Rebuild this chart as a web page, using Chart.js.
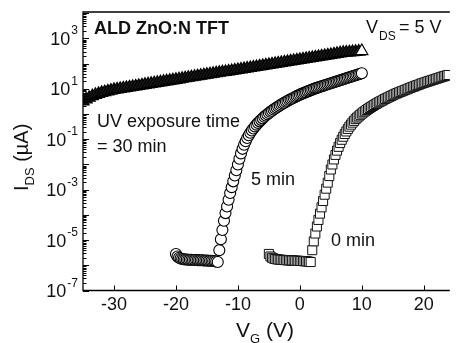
<!DOCTYPE html>
<html>
<head>
<meta charset="utf-8">
<script src="https://cdn.jsdelivr.net/npm/chart.js@4/dist/chart.umd.min.js"></script>
<style>
  html, body { margin: 0; padding: 0; background: #fff; overflow: hidden; }
  canvas { display: block; }
</style>
</head>
<body>
<canvas id="c" width="458" height="343"></canvas>
<script>
// gate sweeps (V): start and step of each measured transfer curve
var sweep30 = { start: -35, step: 0.5 };
var sweep5  = { start: -20, step: 0.25 };
var sweep0  = { start: -5,  step: 0.25 };

// log10(I_DS / uA)
var logI30min = [
  0.50, 0.58, 0.65, 0.71,   // -35 .. -33.5
  0.76, 0.80, 0.84, 0.87,   // -33 .. -31.5
  0.90, 0.93, 0.96, 0.98,   // -31 .. -29.5
  1.00, 1.02, 1.04, 1.06,
  1.08, 1.10, 1.12, 1.14,
  1.16, 1.18, 1.20, 1.22,
  1.24, 1.26, 1.28, 1.30,
  1.32, 1.34, 1.36, 1.38,   // -21 .. -19.5
  1.40, 1.42, 1.44, 1.46,
  1.48, 1.50, 1.52, 1.54,
  1.56, 1.58, 1.60, 1.62,
  1.64, 1.66, 1.67, 1.69,
  1.71, 1.73, 1.75, 1.77,   // -11 .. -9.5
  1.79, 1.81, 1.83, 1.85,
  1.87, 1.89, 1.91, 1.93,
  1.95, 1.97, 1.99, 2.01,
  2.03, 2.05, 2.07, 2.09,
  2.11, 2.13, 2.15, 2.17,   // -1 .. 0.5
  2.19, 2.21, 2.23, 2.25,
  2.27, 2.29, 2.31, 2.33,
  2.35, 2.37, 2.39, 2.41,
  2.43, 2.44, 2.45, 2.46,   // 7 .. 8.5
  2.47, 2.48, 2.50          // 9 .. 10
];

var logI5min = [
  -5.55, -5.65, -5.70, -5.73,   // -20
  -5.75, -5.76, -5.77, -5.77,   // -19
  -5.78, -5.78, -5.78, -5.79,   // -18
  -5.79, -5.79, -5.80, -5.80,   // -17
  -5.80, -5.80, -5.81, -5.81,   // -16
  -5.81, -5.82, -5.82, -5.82,   // -15
  -5.83, -5.84, -5.85, -5.87,   // -14
  -5.40, -4.97, -4.60, -4.23,   // -13
  -3.93, -3.67, -3.40, -3.13,   // -12
  -2.90, -2.67, -2.44, -2.23,   // -11
  -2.00, -1.77, -1.56, -1.38,   // -10
  -1.22, -1.08, -0.95, -0.84,   // -9
  -0.74, -0.65, -0.57, -0.49,   // -8
  -0.42, -0.35, -0.29, -0.23,   // -7
  -0.17, -0.11, -0.06, -0.01,   // -6
   0.04,  0.09,  0.13,  0.18,   // -5
   0.22,  0.26,  0.30,  0.34,   // -4
   0.38,  0.42,  0.45,  0.49,   // -3
   0.52,  0.56,  0.59,  0.62,   // -2
   0.65,  0.68,  0.71,  0.74,   // -1
   0.77,  0.80,  0.82,  0.85,   // 0
   0.87,  0.90,  0.92,  0.95,   // 1
   0.97,  1.00,  1.02,  1.04,   // 2
   1.06,  1.08,  1.10,  1.12,   // 3
   1.14,  1.16,  1.18,  1.20,   // 4
   1.22,  1.24,  1.26,  1.28,   // 5
   1.30,  1.32,  1.34,  1.36,   // 6
   1.38,  1.40,  1.42,  1.44,   // 7
   1.46,  1.48,  1.50,  1.52,   // 8
   1.54,  1.56,  1.58,  1.60,   // 9
   1.62                         // 10
];

var logI0min = [
  -5.55, -5.65, -5.70, -5.73,   // -5
  -5.75, -5.76, -5.77, -5.78,   // -4
  -5.78, -5.79, -5.79, -5.80,   // -3
  -5.80, -5.80, -5.81, -5.81,   // -2
  -5.81, -5.82, -5.82, -5.82,   // -1
  -5.83, -5.83, -5.83, -5.84,   // 0
  -5.84, -5.85, -5.86, -5.87,   // 1
  -5.40, -5.05, -4.74, -4.46,   // 2
  -4.20, -3.95, -3.70, -3.45,   // 3
  -3.20, -2.96, -2.72, -2.46,   // 4
  -2.20, -2.00, -1.80, -1.62,   // 5
  -1.45, -1.30, -1.15, -1.02,   // 6
  -0.90, -0.79, -0.69, -0.59,   // 7
  -0.50, -0.42, -0.34, -0.27,   // 8
  -0.20, -0.14, -0.09, -0.03,   // 9
   0.02,  0.07,  0.11,  0.16,   // 10
   0.20,  0.24,  0.28,  0.32,   // 11
   0.36,  0.40,  0.43,  0.47,   // 12
   0.50,  0.53,  0.57,  0.60,   // 13
   0.63,  0.66,  0.69,  0.72,   // 14
   0.75,  0.78,  0.81,  0.83,   // 15
   0.86,  0.88,  0.91,  0.93,   // 16
   0.96,  0.98,  1.01,  1.03,   // 17
   1.06,  1.08,  1.10,  1.13,   // 18
   1.15,  1.17,  1.20,  1.22,   // 19
   1.24,  1.26,  1.28,  1.30,   // 20
   1.32,  1.34,  1.36,  1.38,   // 21
   1.40,  1.42,  1.44,  1.46,   // 22
   1.48,  1.50,  1.52,  1.53,   // 23
   1.55                         // 24
];

var xTicks = [-30, -20, -10, 0, 10, 20];
var yLabelExps = [-7, -5, -3, -1, 1, 3];

var FONT = "'Liberation Sans', Arial, sans-serif";

function toPoints(sweep, logs) {
  return logs.map(function(v, i) {
    return { x: sweep.start + i * sweep.step, y: Math.pow(10, v) };
  });
}

function lastWhite(fill) {
  return function(ctx) {
    return ctx.dataIndex === ctx.dataset.data.length - 1 ? '#fff' : fill;
  };
}

// axes, ticks, labels and notes drawn over the plot
var framePlugin = {
  id: 'frame',
  afterDraw: function(chart) {
    var ctx = chart.ctx, a = chart.chartArea;
    var xs = chart.scales.x, ys = chart.scales.y;
    ctx.save();
    ctx.strokeStyle = '#000';
    ctx.fillStyle = '#111';
    ctx.lineWidth = 1.3;
    ctx.beginPath();
    ctx.moveTo(a.right, a.top); ctx.lineTo(a.left, a.top);
    ctx.lineTo(a.left, a.bottom); ctx.lineTo(a.right, a.bottom);
    ctx.stroke();

    ctx.lineWidth = 1;
    ctx.beginPath();
    xTicks.forEach(function(t) {
      var px = Math.round(xs.getPixelForValue(t)) + 0.5;
      ctx.moveTo(px, a.bottom); ctx.lineTo(px, a.bottom - 5);
    });
    for (var e = -7; e <= 4; e++) {
      for (var m = 1; m <= 9; m++) {
        var v = m * Math.pow(10, e);
        if (v > ys.max) break;
        var py = Math.round(ys.getPixelForValue(v)) + 0.5;
        ctx.moveTo(a.left, py); ctx.lineTo(a.left + (m === 1 ? 6 : 3.5), py);
      }
    }
    ctx.stroke();

    ctx.font = '18px ' + FONT;
    ctx.textAlign = 'center';
    ctx.textBaseline = 'alphabetic';
    xTicks.forEach(function(t) {
      ctx.fillText(String(t), xs.getPixelForValue(t), 310);
    });

    ctx.textAlign = 'left';
    yLabelExps.forEach(function(e) {
      var py = ys.getPixelForValue(Math.pow(10, e));
      ctx.font = '12px ' + FONT;
      var ew = ctx.measureText(String(e)).width;
      ctx.fillText(String(e), 78 - ew, py - 4);
      ctx.font = '18px ' + FONT;
      var bw = ctx.measureText('10').width;
      ctx.fillText('10', 77 - ew - bw, py + 6.5);
    });

    // axis titles
    ctx.font = '21px ' + FONT;
    ctx.fillText('V', 236, 337);
    ctx.font = '13px ' + FONT;
    ctx.fillText('G', 250, 343);
    ctx.font = '21px ' + FONT;
    ctx.fillText('(V)', 266, 337);

    ctx.save();
    ctx.translate(28, 191);
    ctx.rotate(-Math.PI / 2);
    ctx.font = '20px ' + FONT;
    ctx.fillText('I', 0, 0);
    var iw = ctx.measureText('I').width;
    ctx.font = '13px ' + FONT;
    ctx.fillText('DS', iw, 6);
    var dw = ctx.measureText('DS').width;
    ctx.font = '20px ' + FONT;
    ctx.fillText(' (\u00b5A)', iw + dw, 0);
    ctx.restore();

    // notes
    ctx.font = 'bold 18px ' + FONT;
    ctx.fillText('ALD ZnO:N TFT', 94, 34);
    ctx.font = '18px ' + FONT;
    ctx.fillText('V', 366, 33);
    ctx.fillText('= 5 V', 399, 33);
    ctx.font = '12px ' + FONT;
    ctx.fillText('DS', 379, 40);
    ctx.font = '18px ' + FONT;
    ctx.fillText('UV exposure time', 97, 127);
    ctx.fillText('= 30 min', 97, 152);
    ctx.fillText('5 min', 251, 185);
    ctx.fillText('0 min', 331, 246);
    ctx.restore();
  }
};

new Chart(document.getElementById('c'), {
  type: 'line',
  data: {
    datasets: [
      {
        label: '30 min',
        data: toPoints(sweep30, logI30min),
        showLine: false,
        clip: 0,
        pointStyle: 'triangle',
        pointRadius: 7,
        pointBorderWidth: 1.2,
        pointBorderColor: '#000',
        pointBackgroundColor: lastWhite('#1c1c1c')
      },
      {
        label: '5 min',
        data: toPoints(sweep5, logI5min),
        showLine: false,
        clip: 0,
        pointStyle: 'circle',
        pointRadius: 5.5,
        pointBorderWidth: 1.1,
        pointBorderColor: '#000',
        pointBackgroundColor: '#fff'
      },
      {
        label: '0 min',
        data: toPoints(sweep0, logI0min),
        showLine: false,
        clip: 0,
        pointStyle: 'rect',
        pointRadius: 6.4,
        pointBorderWidth: 1,
        pointBorderColor: '#111',
        pointBackgroundColor: '#fff'
      }
    ]
  },
  options: {
    responsive: false,
    animation: false,
    events: [],
    layout: { padding: { left: 83, top: 12, right: 0, bottom: 52.5 } },
    plugins: { legend: { display: false }, tooltip: { enabled: false } },
    scales: {
      x: { type: 'linear', min: -35, max: 24.2, display: false },
      y: { type: 'logarithmic', min: 1e-7, max: 1.12e4, display: false }
    }
  },
  plugins: [framePlugin]
});
</script>
</body>
</html>
